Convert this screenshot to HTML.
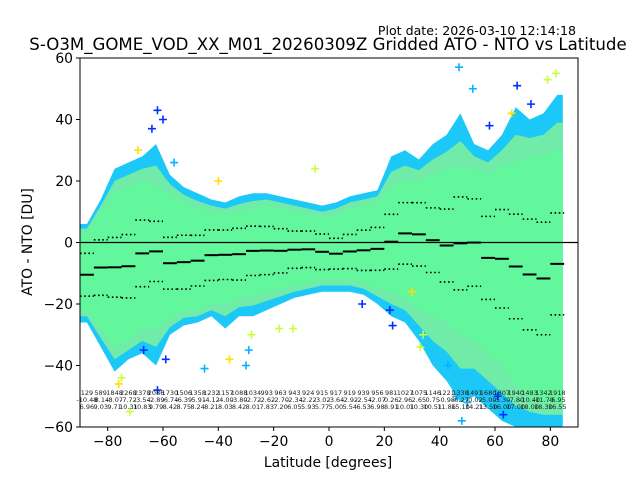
<!DOCTYPE html>
<html><head><meta charset="utf-8">
<style>
body{margin:0;background:#fff;}
svg{display:block;font-family:"DejaVu Sans","Liberation Sans",sans-serif;}
</style></head>
<body>
<svg id="chart" width="640" height="480" viewBox="0 0 640 480">
<text x="576" y="35" font-size="12.6" text-anchor="end">Plot date: 2026-03-10 12:14:18</text>
<text x="328" y="50" font-size="16.6" text-anchor="middle">S-O3M_GOME_VOD_XX_M01_20260309Z Gridded ATO - NTO vs Latitude</text>
<text x="0" y="0" font-size="13.9" text-anchor="middle" transform="translate(32,242) rotate(-90)">ATO - NTO [DU]</text>
<text x="328" y="467" font-size="13.9" text-anchor="middle">Latitude [degrees]</text>
<g id="plot"></g>
</svg>
<script>
const binCenters=[-87.5,-82.5,-77.5,-72.5,-67.5,-62.5,-57.5,-52.5,-47.5,-42.5,-37.5,-32.5,-27.5,-22.5,-17.5,-12.5,-7.5,-2.5,2.5,7.5,12.5,17.5,22.5,27.5,32.5,37.5,42.5,47.5,52.5,57.5,62.5,67.5,72.5,77.5,82.5];
const counts=[129,589,1848,2268,2378,2086,1730,1506,1358,1232,1157,1088,1034,993,963,943,924,915,917,919,939,956,981,1027,1075,1146,1221,1338,1491,1680,1807,1940,1483,1342,1918];
const means=[-10.48,-8.14,-8.07,-7.72,-3.54,-2.89,-6.74,-6.39,-5.91,-4.12,-4.00,-3.80,-2.72,-2.62,-2.70,-2.34,-2.22,-3.02,-3.64,-2.92,-2.54,-2.07,0.26,2.96,2.65,0.75,-0.98,-0.27,-0.02,-5.0,-5.3,-7.8,-10.4,-11.7,-6.95];
const stds=[6.96,9.03,9.71,10.31,10.83,9.79,8.42,8.75,8.24,8.21,8.03,8.42,8.01,7.83,7.20,6.05,5.93,5.77,5.00,5.54,6.53,6.98,8.91,10.01,10.30,10.51,11.86,15.10,14.21,13.5,16.0,17.0,18.0,18.3,16.55];
const upperEdge=[6,14,24,26,28,32,22,18,16,14,13,15,16,16,15,14,13,12,13,15,16,17,28,30,27,32,35,42,32,30,35,44,40,42,48];
const lowerEdge=[-26,-34,-42,-38,-36,-40,-30,-27,-26,-24,-28,-24,-24,-22,-20,-18,-17,-16,-16,-16,-17,-20,-24,-26,-32,-40,-45,-52,-50,-54,-58,-60,-60,-60,-60];
const coreUpper=[3,10,16,18,20,18,16,13,11,10,9,10,11,12,11,10,9,8,9,11,12,13,18,20,20,22,24,24,24,22,25,26,28,28,30];
const coreLower=[-22,-28,-34,-32,-28,-28,-25,-22,-22,-20,-20,-18,-17,-16,-15,-14,-13,-12,-12,-12,-13,-15,-16,-18,-22,-24,-26,-30,-32,-36,-40,-46,-50,-52,-52];
const outLat=[-64,-62,-60,-67,-75,-72,-76,-62,-59,-45,-30,-29,-18,-13,-5,23,22,34,33,46,48,50,47,52,61,63,68,73,79,82,-69,-56,-40,-36,-28,12,30,43,58,66];
const outVal=[37,43,40,-35,-44,-55,-46,-48,-38,-41,-40,-35,-28,-28,24,-27,-22,-30,-34,-50,-58,-52,57,50,-50,-56,51,45,53,55,30,26,20,-38,-30,-20,-16,-40,38,42];
const outColor=[3,3,3,3,1,1,2,3,3,0,0,0,1,1,1,3,3,1,1,0,0,0,0,0,3,3,3,3,1,1,2,0,2,2,1,3,2,0,3,2];
const yTicks=[60,40,20,0,-20,-40,-60];
const xTicks=[-80,-60,-40,-20,0,20,40,60,80];
const palette=["#00b4ff","#c8ff3c","#ffe000","#0030ff"];

const X0=80,X1=578,Y0=58,Y1=427;
const xs=v=>X0+(v+90)/180*(X1-X0);
const ys=v=>Y0+(60-v)/120*(Y1-Y0);
const NS="http://www.w3.org/2000/svg";
const g=document.getElementById('plot');
function mk(t,a){const e=document.createElementNS(NS,t);for(const k in a)e.setAttribute(k,a[k]);g.appendChild(e);return e;}
function band(up,lo,fill,name){
  let p=[];
  p.push([xs(binCenters[0]-2.5),ys(up[0])]);
  binCenters.forEach((c,i)=>p.push([xs(c),ys(up[i])]));
  p.push([xs(binCenters[binCenters.length-1]+2),ys(up[up.length-1])]);
  p.push([xs(binCenters[binCenters.length-1]+2),ys(lo[lo.length-1])]);
  for(let i=binCenters.length-1;i>=0;i--)p.push([xs(binCenters[i]),ys(lo[i])]);
  p.push([xs(binCenters[0]-2.5),ys(lo[0])]);
  const e=mk('polygon',{points:p.map(q=>q.join(',')).join(' '),fill:fill});
  
  
}
band(upperEdge,lowerEdge,"#1cc8f8","outer-scatter-cloud");
band(upperEdge.map((v,i)=>(v+coreUpper[i])/2),lowerEdge.map((v,i)=>(v+coreLower[i])/2),"#70eca8","mid-scatter-cloud");
band(coreUpper,coreLower,"#62f79c","core-scatter-cloud");
outLat.forEach((la,i)=>{
  const cx=xs(la),cy=ys(outVal[i]);
  const e=mk('path',{d:`M${cx-4},${cy}H${cx+4}M${cx},${cy-4}V${cy+4}`,stroke:palette[outColor[i]],'stroke-width':1.6});
  
  
});
const z=mk('line',{x1:X0,x2:X1,y1:ys(0),y2:ys(0),stroke:'#000','stroke-width':1.2});


binCenters.forEach((c,i)=>{
  const a=xs(c-2.5),b=xs(c+2.5);
  const m=mk('line',{x1:a,x2:b,y1:ys(means[i]),y2:ys(means[i]),stroke:'#000','stroke-width':2});
  
  
  [1,-1].forEach(s=>{
    const d=mk('line',{x1:a,x2:b,y1:ys(means[i]+s*stds[i]),y2:ys(means[i]+s*stds[i]),stroke:'#000','stroke-width':1.6,'stroke-dasharray':'1.6,2.6'});
    
    
  });
  const rows=[String(counts[i]),means[i].toFixed(2),stds[i].toFixed(2)];
  rows.forEach((r,j)=>{
    const t=mk('text',{x:xs(c),y:395+j*7,'font-size':6.5,'text-anchor':'middle',fill:'#222'});
    t.textContent=r;
    
    
  });
});
const fr=mk('rect',{x:X0,y:Y0,width:X1-X0,height:Y1-Y0,fill:'none',stroke:'#000','stroke-width':1});


yTicks.forEach(v=>{
  const l=mk('line',{x1:X0-4,x2:X0,y1:ys(v),y2:ys(v),stroke:'#000'});
  
  
  const t=mk('text',{x:X0-7,y:ys(v)+5,'font-size':13.9,'text-anchor':'end'});
  t.textContent=v<0?'\u2212'+Math.abs(v):String(v);
  
  
});
xTicks.forEach(v=>{
  const l=mk('line',{x1:xs(v),x2:xs(v),y1:Y1,y2:Y1+4,stroke:'#000'});
  
  
  const t=mk('text',{x:xs(v),y:Y1+19,'font-size':13.9,'text-anchor':'middle'});
  t.textContent=v<0?'\u2212'+Math.abs(v):String(v);
  
  
});
</script>
</body></html>
